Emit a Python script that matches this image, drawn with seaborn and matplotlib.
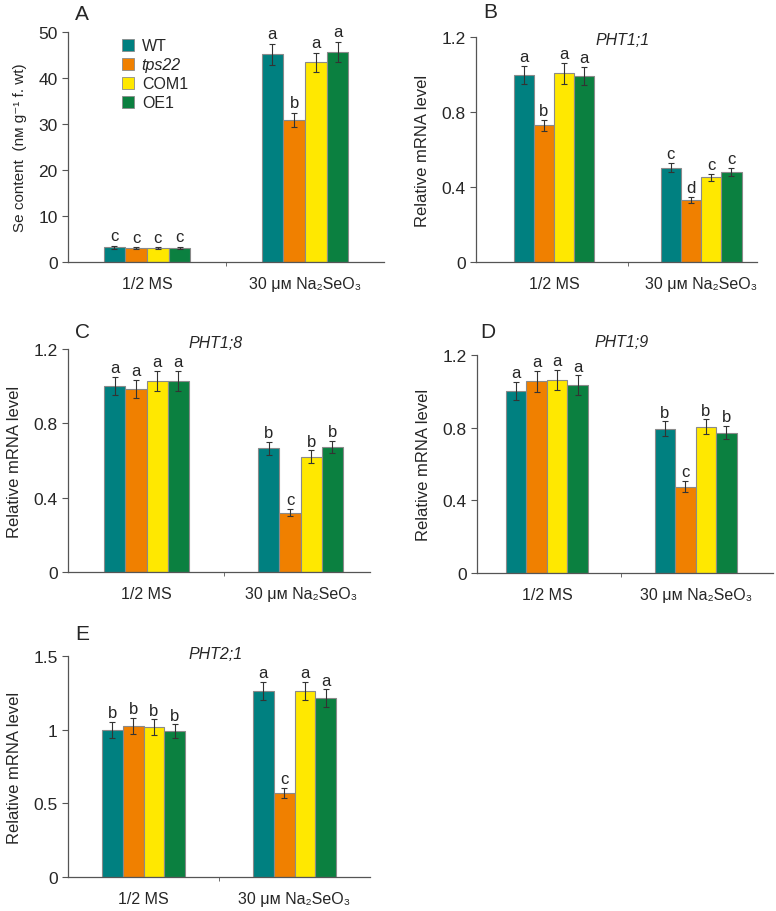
import numpy as np
import pandas as pd
import matplotlib
matplotlib.use('Agg')
import matplotlib.pyplot as plt
import seaborn as sns

# ---- data ----
lines = ['WT', 'tps22', 'COM1', 'OE1']
conds = ['1/2 MS', '30 μᴍ Na₂SeO₃']
colors = ['#008080', '#f08000', '#ffe800', '#0b8040']

# A: Se content
se_ms = [3.2, 3.0, 3.0, 3.0]
se_ms_err = [0.3, 0.2, 0.2, 0.25]
se_na = [45.2, 30.9, 43.4, 45.6]
se_na_err = [2.3, 1.6, 2.0, 2.2]
se_let = ['c', 'c', 'c', 'c'], ['a', 'b', 'a', 'a']

# B: PHT1;1
p11_ms = [1.00, 0.73, 1.006, 0.992]
p11_ms_err = [0.048, 0.03, 0.055, 0.048]
p11_na = [0.503, 0.332, 0.452, 0.48]
p11_na_err = [0.025, 0.016, 0.02, 0.02]
p11_let = ['a', 'b', 'a', 'a'], ['c', 'd', 'c', 'c']

# C: PHT1;8
p18_ms = [1.00, 0.984, 1.027, 1.027]
p18_ms_err = [0.05, 0.05, 0.053, 0.053]
p18_na = [0.665, 0.32, 0.621, 0.674]
p18_na_err = [0.036, 0.018, 0.033, 0.032]
p18_let = ['a', 'a', 'a', 'a'], ['b', 'c', 'b', 'b']

# D: PHT1;9
p19_ms = [1.00, 1.055, 1.062, 1.035]
p19_ms_err = [0.05, 0.057, 0.054, 0.053]
p19_na = [0.794, 0.475, 0.805, 0.772]
p19_na_err = [0.04, 0.03, 0.04, 0.037]
p19_let = ['a', 'a', 'a', 'a'], ['b', 'c', 'b', 'b']

# E: PHT2;1
p21_ms = [0.998, 1.025, 1.018, 0.991]
p21_ms_err = [0.054, 0.054, 0.052, 0.045]
p21_na = [1.262, 0.57, 1.262, 1.213]
p21_na_err = [0.061, 0.034, 0.061, 0.061]
p21_let = ['b', 'b', 'b', 'b'], ['a', 'c', 'a', 'a']

sns.set_style('ticks')
plt.rcParams['font.family'] = ['Liberation Sans', 'DejaVu Sans']
plt.rcParams['axes.edgecolor'] = '#555555'

W, H = 776, 912
fig = plt.figure(figsize=(W / 100, H / 100), dpi=100)


def make_ax(left, right, top, bottom):
    return fig.add_axes([left / W, 1 - bottom / H, (right - left) / W, (bottom - top) / H])


def panel(ax, ms, ms_err, na, na_err, letters, ylim, yticks, yticklabels, xlim,
          ylabel, ylabel_size=12, gene=None, gene_x=0.5, gene_y=1.0, offset=0.0):
    df = pd.DataFrame({
        'cond': [conds[0]] * 4 + [conds[1]] * 4,
        'line': lines * 2,
        'val': ms + na,
    })
    sns.barplot(data=df, x='cond', y='val', hue='line', hue_order=lines, palette=colors,
                saturation=1, width=0.55, gap=0, errorbar=None, edgecolor='#8a8a8a',
                linewidth=0.8, legend=False, ax=ax)
    errs = [ms_err, na_err]
    vals = [ms, na]
    bar_groups = list(ax.containers)
    for h, cont in enumerate(bar_groups):
        for c, bar in enumerate(cont):
            x = bar.get_x() + bar.get_width() / 2
            v, e = vals[c][h], errs[c][h]
            ax.errorbar(x, v, yerr=e, color='#333333', lw=0.8, capsize=2, capthick=0.8)
            ax.text(x, v + e + offset, letters[c][h], ha='center', va='bottom', fontsize=12)
    ax.set_ylim(*ylim)
    ax.set_yticks(yticks, yticklabels)
    ax.set_xlim(*xlim)
    ax.set_xticks([0, 1], conds)
    ax.set_xticks([0.5], minor=True)
    ax.tick_params(axis='x', which='major', length=0, pad=10, labelsize=11.5)
    ax.tick_params(axis='x', which='minor', length=3, color='#555555')
    ax.tick_params(axis='y', length=4, color='#555555', labelsize=12.5)
    ax.set_xlabel('')
    ax.set_ylabel(ylabel, fontsize=ylabel_size, labelpad=8)
    for s in ['top', 'right']:
        ax.spines[s].set_visible(False)
    for s in ['left', 'bottom']:
        ax.spines[s].set_linewidth(0.9)
    if gene:
        ax.text(gene_x, gene_y, gene, transform=ax.transAxes, ha='center', va='center',
                fontsize=11.5, style='italic')


axA = make_ax(68, 384, 33, 263)
panel(axA, se_ms, se_ms_err, se_na, se_na_err, se_let, (0, 50), [0, 10, 20, 30, 40, 50],
      ['0', '10', '20', '30', '40', '50'], (-0.5, 1.5), 'Se content  (nᴍ g⁻¹ f. wt)',
      ylabel_size=11, offset=0.6)
handles = [plt.Rectangle((0, 0), 1, 1, facecolor=c, edgecolor='#8a8a8a', lw=0.6) for c in colors]
leg = axA.legend(handles, lines, loc='upper left', bbox_to_anchor=(0.15, 1.0), frameon=False,
                 fontsize=11.5, handlelength=0.75, handleheight=0.75, labelspacing=0.25,
                 handletextpad=0.5, borderaxespad=0)
leg.get_texts()[1].set_style('italic')

axB = make_ax(476, 757, 38, 263)
panel(axB, p11_ms, p11_ms_err, p11_na, p11_na_err, p11_let, (0, 1.2), [0, 0.4, 0.8, 1.2],
      ['0', '0.4', '0.8', '1.2'], (-0.53, 1.38), 'Relative mRNA level', gene='PHT1;1',
      gene_x=0.52, gene_y=0.99, offset=0.01)

axC = make_ax(68, 370, 350, 573)
panel(axC, p18_ms, p18_ms_err, p18_na, p18_na_err, p18_let, (0, 1.2), [0, 0.4, 0.8, 1.2],
      ['0', '0.4', '0.8', '1.2'], (-0.51, 1.45), 'Relative mRNA level', gene='PHT1;8',
      gene_x=0.49, gene_y=1.03, offset=0.01)

axD = make_ax(477, 773, 356, 574)
panel(axD, p19_ms, p19_ms_err, p19_na, p19_na_err, p19_let, (0, 1.2), [0, 0.4, 0.8, 1.2],
      ['0', '0.4', '0.8', '1.2'], (-0.47, 1.52), 'Relative mRNA level', gene='PHT1;9',
      gene_x=0.49, gene_y=1.06, offset=0.01)

axE = make_ax(68, 370, 657, 878)
panel(axE, p21_ms, p21_ms_err, p21_na, p21_na_err, p21_let, (0, 1.5), [0, 0.5, 1, 1.5],
      ['0', '0.5', '1', '1.5'], (-0.5, 1.5), 'Relative mRNA level', gene='PHT2;1',
      gene_x=0.49, gene_y=1.01, offset=0.012)

for lab, x, y in [('A', 82, 15), ('B', 490, 12), ('C', 82, 332), ('D', 488, 332), ('E', 82, 635)]:
    fig.text(x / W, 1 - y / H, lab, ha='center', va='center', fontsize=15)

fig.savefig('out.png', dpi=100)
